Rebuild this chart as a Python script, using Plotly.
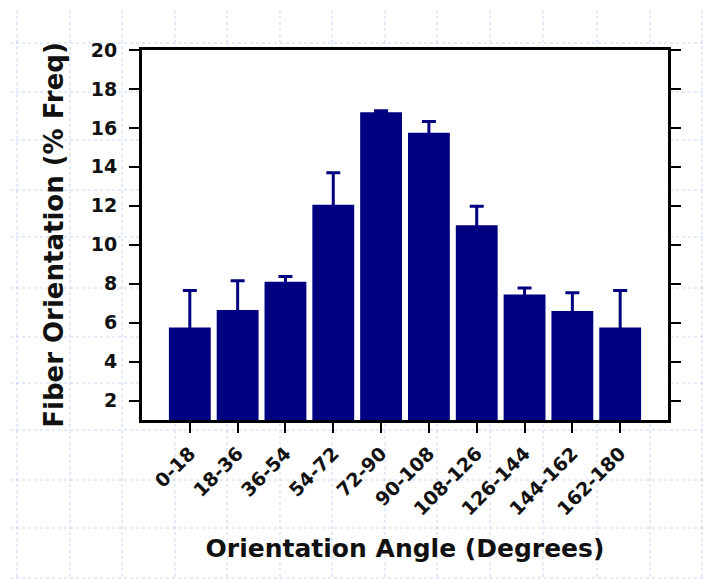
import plotly.graph_objects as go

categories = ["0-18", "18-36", "36-54", "54-72", "72-90", "90-108",
              "108-126", "126-144", "144-162", "162-180"]
freq = [5.75, 6.65, 8.1, 12.05, 16.8, 15.75, 11.0, 7.45, 6.6, 5.75]
err_up = [1.9, 1.5, 0.27, 1.65, 0.08, 0.58, 0.97, 0.33, 0.93, 1.9]
y_ticks = [2, 4, 6, 8, 10, 12, 14, 16, 18, 20]

W, H = 708, 579
L, R, T, B = 142, 40, 50, 159
pw, ph = W - L - R, H - T - B

def px(x):
    return (x - L) / pw

def py(y):
    return (H - B - y) / ph

grid_x = [17, 70, 122, 175, 227, 280, 332, 385, 437, 490, 543, 597, 650, 702]
grid_y = [43, 92, 140, 190, 237, 288, 337, 383, 430, 480, 528, 578]

shapes = []
gcol = "rgba(160,180,235,0.55)"
for gx in grid_x:
    shapes.append(dict(type="line", xref="paper", yref="paper", layer="below",
                       x0=px(gx), x1=px(gx), y0=py(10), y1=py(579),
                       line=dict(color=gcol, width=1, dash="dot")))
for gy in grid_y:
    shapes.append(dict(type="line", xref="paper", yref="paper", layer="below",
                       x0=px(10), x1=px(705), y0=py(gy), y1=py(gy),
                       line=dict(color=gcol, width=1, dash="dot")))
shapes.append(dict(type="rect", xref="paper", yref="paper", layer="below",
                   x0=0, x1=1, y0=0, y1=1, fillcolor="white",
                   line=dict(width=0)))

font_family = "DejaVu Sans"

fig = go.Figure(go.Bar(
    x=list(range(len(categories))),
    y=freq,
    marker=dict(color="#000080", line=dict(color="#000080", width=0)),
    error_y=dict(type="data", symmetric=True, array=err_up,
                 color="#000080", thickness=3, width=7),
))

fig.update_layout(
    width=W, height=H,
    margin=dict(l=L, r=R, t=T, b=B),
    paper_bgcolor="white", plot_bgcolor="white",
    bargap=0.125,
    showlegend=False,
    shapes=shapes,
    font=dict(family=font_family, color="#111111"),
)

fig.update_xaxes(
    range=[-1, 10],
    tickmode="array",
    tickvals=list(range(len(categories))),
    ticktext=categories,
    tickangle=-45,
    tickfont=dict(size=19, weight="bold", family=font_family),
    ticks="outside", ticklen=10, tickwidth=2, tickcolor="black",
    ticklabelstandoff=2,
    showline=True, linewidth=3, linecolor="black", mirror=True,
    showgrid=False, zeroline=False,
    title=dict(text="Orientation Angle (Degrees)",
               font=dict(size=25, weight="bold", family=font_family),
               standoff=21),
)

fig.update_yaxes(
    range=[1, 20],
    tickmode="array",
    tickvals=y_ticks,
    ticktext=[str(v) for v in y_ticks],
    tickfont=dict(size=19, weight="bold", family=font_family),
    ticks="outside", ticklen=10, tickwidth=2, tickcolor="black",
    ticklabelstandoff=8,
    showline=True, linewidth=3, linecolor="black", mirror="ticks",
    showgrid=False, zeroline=False,
    title=dict(text="Fiber Orientation (% Freq)",
               font=dict(size=26, weight="bold", family=font_family),
               standoff=20),
)

fig.write_html("out.html")
